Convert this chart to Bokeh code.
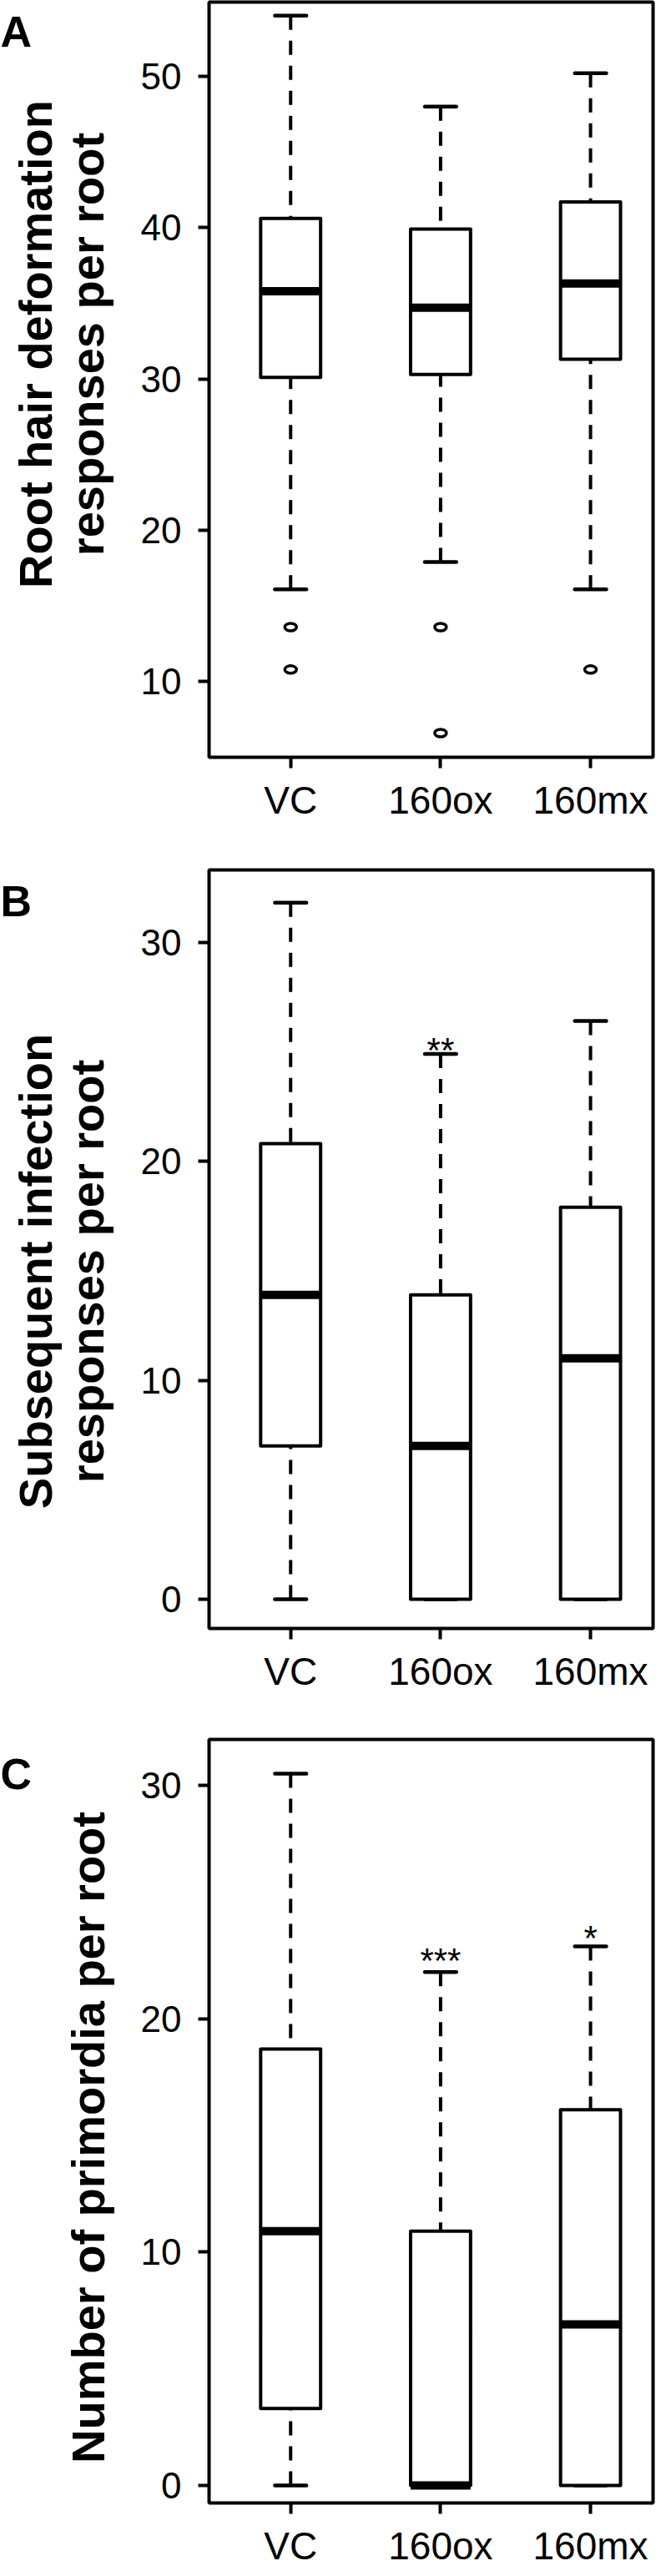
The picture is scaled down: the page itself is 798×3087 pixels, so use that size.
import math
from bokeh.plotting import figure
from bokeh.layouts import column, row
from bokeh.models import Range1d, FixedTicker
from bokeh.core.properties import value
from bokeh.embed import file_html
from bokeh.resources import INLINE

categories = ["VC", "160ox", "160mx"]

# Panel A: root hair deformation responses per root
a_low = [16.1, 17.9, 16.1]
a_q1 = [30.1, 30.3, 31.3]
a_med = [35.8, 34.7, 36.3]
a_q3 = [40.6, 39.9, 41.7]
a_high = [54.0, 48.0, 50.2]
a_out_group = ["VC", "VC", "160ox", "160ox", "160mx"]
a_out_value = [13.6, 10.8, 13.6, 6.6, 10.8]

# Panel B: subsequent infection responses per root
b_low = [0.0, 0.0, 0.0]
b_q1 = [7.0, 0.0, 0.0]
b_med = [13.9, 7.0, 11.0]
b_q3 = [20.8, 13.9, 17.9]
b_high = [31.8, 24.9, 26.4]
b_sig_group = ["160ox"]
b_sig_text = ["**"]
b_sig_y = [26.0]

# Panel C: number of primordia per root
c_low = [0.0, 0.0, 0.0]
c_q1 = [3.3, 0.0, 0.0]
c_med = [10.9, 0.0, 6.9]
c_q3 = [18.7, 10.9, 16.1]
c_high = [30.5, 22.0, 23.1]
c_sig_group = ["160ox", "160mx"]
c_sig_text = ["***", "*"]
c_sig_y = [23.35, 24.3]

a_ticks = [10, 20, 30, 40, 50]
b_ticks = [0, 10, 20, 30]
c_ticks = [0, 10, 20, 30]

panel_letters = ["A", "B", "C"]
panel_titles = [["Root hair deformation", "responses per root"],
                ["Subsequent infection", "responses per root"],
                ["Number of primordia per root"]]

FONT = "Liberation Sans"
pos = {c: i + 1 for i, c in enumerate(categories)}
xs = [pos[c] for c in categories]
BOX_W = 0.4
CAP_W = 0.21

LEFT_W = 150
TOTAL_H = 1017 + 1045 + 1017


def make_panel(low, q1, med, q3, high, yrange, yticks, height, top, bottom,
               out_group=None, out_value=None,
               sig_group=None, sig_text=None, sig_y=None):
    p = figure(width=786 - LEFT_W, height=height, output_backend="svg",
               toolbar_location=None,
               x_range=Range1d(0.456, 3.417), y_range=Range1d(*yrange),
               min_border_left=250 - LEFT_W, min_border_right=4,
               min_border_top=top, min_border_bottom=bottom)
    p.background_fill_color = "white"
    p.border_fill_color = "white"
    p.outline_line_color = "black"
    p.outline_line_width = 4
    p.grid.visible = False

    for ax in (p.xaxis[0], p.yaxis[0]):
        ax.axis_line_color = None
        ax.major_tick_line_color = "black"
        ax.major_tick_line_width = 4
        ax.major_tick_in = 0
        ax.major_tick_out = 13
        ax.minor_tick_line_color = None
        ax.major_label_text_font = FONT
        ax.major_label_text_color = "black"
    p.xaxis[0].ticker = FixedTicker(ticks=xs)
    p.xaxis[0].major_label_overrides = {pos[c]: c for c in categories}
    p.xaxis[0].major_label_text_font_size = "46px"
    p.xaxis[0].major_label_standoff = 12
    p.yaxis[0].ticker = FixedTicker(ticks=yticks)
    p.yaxis[0].major_label_text_font_size = "44px"
    p.yaxis[0].major_label_standoff = 20

    # whiskers (dashed), drawn from the staple to the box
    p.segment(x0=xs, y0=high, x1=xs, y1=q3, line_color="black",
              line_width=4, line_dash="17 13", line_cap="butt")
    p.segment(x0=xs, y0=low, x1=xs, y1=q1, line_color="black",
              line_width=4, line_dash="17 13", line_cap="butt")
    # staples
    x_l = [x - CAP_W / 2 for x in xs]
    x_r = [x + CAP_W / 2 for x in xs]
    p.segment(x0=x_l, y0=high, x1=x_r, y1=high, line_color="black",
              line_width=4.5, line_cap="round")
    p.segment(x0=x_l, y0=low, x1=x_r, y1=low, line_color="black",
              line_width=4.5, line_cap="round")
    # boxes
    p.vbar(x=xs, width=BOX_W, top=q3, bottom=q1, fill_color="white",
           line_color="black", line_width=4, line_join="round")
    # medians
    b_l = [x - BOX_W / 2 for x in xs]
    b_r = [x + BOX_W / 2 for x in xs]
    p.segment(x0=b_l, y0=med, x1=b_r, y1=med, line_color="black",
              line_width=10, line_cap="butt")

    if out_group:
        p.ellipse(x=[pos[g] for g in out_group], y=out_value,
                  width=14, height=9, width_units="screen",
                  height_units="screen", fill_color=None,
                  line_color="black", line_width=3.5)
    if sig_group:
        p.text(x=[pos[g] for g in sig_group], y=sig_y, text=sig_text,
               text_font=value(FONT), text_font_size=value("42px"),
               text_align="center", text_baseline="alphabetic",
               y_offset=24, text_color="black")
    return p


pA = make_panel(a_low, a_q1, a_med, a_q3, a_high, (5.0, 54.9), a_ticks,
                height=1017, top=2, bottom=110,
                out_group=a_out_group, out_value=a_out_value)
pB = make_panel(b_low, b_q1, b_med, b_q3, b_high, (-1.33, 33.3), b_ticks,
                height=1045, top=25, bottom=111,
                sig_group=b_sig_group, sig_text=b_sig_text, sig_y=b_sig_y)
pC = make_panel(c_low, c_q1, c_med, c_q3, c_high, (-0.75, 31.97), c_ticks,
                height=1017, top=22, bottom=80,
                sig_group=c_sig_group, sig_text=c_sig_text, sig_y=c_sig_y)

# left strip holding the panel letters and the y-axis titles,
# its ranges are page pixels (x from the left, y from the top)
side = figure(width=LEFT_W, height=TOTAL_H, output_backend="svg",
              toolbar_location=None,
              x_range=Range1d(8, 8 + LEFT_W), y_range=Range1d(8 + TOTAL_H, 8),
              min_border=0)
side.axis.visible = False
side.grid.visible = False
side.outline_line_color = None
side.background_fill_color = "white"
side.border_fill_color = "white"

letter_x = [8, 8, 8]
letter_y = [45, 1087, 2133]
side.text(x=letter_x, y=letter_y, text=panel_letters,
          text_font=value(FONT), text_font_size=value("52px"),
          text_font_style="bold", text_align="left",
          text_baseline="alphabetic", text_color="black")

title_center_y = [420, 1531, 2569]
t_x, t_y, t_text = [], [], []
for cy, lines in zip(title_center_y, panel_titles):
    bases = [50, 112] if len(lines) == 2 else [113]
    for bx, line in zip(bases, lines):
        t_x.append(bx)
        t_y.append(cy)
        t_text.append(line)
side.text(x=t_x, y=t_y, text=t_text, angle=math.pi / 2,
          text_font=value(FONT), text_font_size=value("56px"),
          text_font_style="bold", text_align="center",
          text_baseline="alphabetic", text_color="black")

layout = row(side, column(pA, pB, pC, spacing=0), spacing=0)
open("out.html", "w").write(file_html(layout, INLINE))
